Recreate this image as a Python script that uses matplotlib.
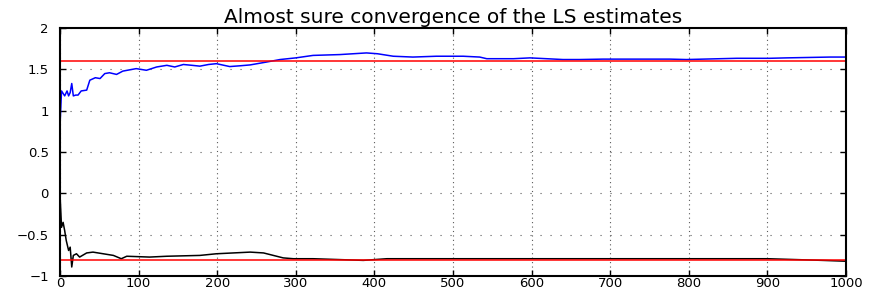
import numpy as np
import matplotlib
matplotlib.use("Agg")
import matplotlib.pyplot as plt

# --- dados ---
# estimativa do primeiro parametro (curva azul)
n_blue = [0, 0, 2, 6, 9, 11, 13, 15, 17, 20, 23, 27, 34, 38, 45, 51, 57, 63, 72, 80,
          97, 110, 123, 136, 146, 157, 168, 178, 189, 199, 216, 230, 242, 263, 280, 300,
          322, 356, 390, 404, 424, 449, 479, 513, 534, 543, 577, 598, 640, 661, 691,
          776, 797, 861, 903, 924, 980, 1000]
theta1 = [1.22, 0.81, 1.24, 1.18, 1.24, 1.18, 1.22, 1.33, 1.18, 1.19, 1.19, 1.24, 1.25,
          1.37, 1.40, 1.39, 1.45, 1.46, 1.44, 1.48, 1.51, 1.49, 1.53, 1.55, 1.53, 1.56,
          1.55, 1.54, 1.56, 1.57, 1.535, 1.545, 1.555, 1.59, 1.62, 1.64, 1.67, 1.68,
          1.70, 1.69, 1.66, 1.65, 1.66, 1.66, 1.65, 1.63, 1.63, 1.64, 1.62, 1.62,
          1.625, 1.625, 1.62, 1.635, 1.635, 1.64, 1.65, 1.65]

# estimativa do segundo parametro (curva preta)
n_black = [0, 2, 4, 6, 8, 11, 13, 15, 17, 21, 25, 34, 42, 55, 68, 78, 85, 114, 136,
           178, 199, 242, 259, 284, 297, 322, 386, 416, 500, 600, 700, 800, 900, 970, 1000]
theta2 = [0.0, -0.41, -0.35, -0.45, -0.57, -0.69, -0.65, -0.89, -0.75, -0.73, -0.77,
          -0.72, -0.71, -0.73, -0.75, -0.79, -0.76, -0.77, -0.76, -0.75, -0.73, -0.71,
          -0.72, -0.78, -0.79, -0.79, -0.81, -0.79, -0.79, -0.79, -0.79, -0.79, -0.79,
          -0.81, -0.82]

# valores verdadeiros
true_vals = [1.6, -0.8]

xticks = list(range(0, 1001, 100))
yticks = [-1, -0.5, 0, 0.5, 1, 1.5, 2]
ytick_labels = ['\u22121', '\u22120.5', '0', '0.5', '1', '1.5', '2']

# --- figura ---
fig = plt.figure(figsize=(8.69, 2.90), dpi=100)
ax = fig.add_axes([0.069, 0.048, 0.9045, 0.855])

ax.plot(n_blue, theta1, color='#0000ff', linewidth=1.1)
ax.plot(n_black, theta2, color='black', linewidth=1.1)
for v in true_vals:
    ax.axhline(v, color='#ff0000', linewidth=1.1)

ax.set_xlim(0, 1000)
ax.set_ylim(-1, 2)
ax.set_xticks(xticks)
ax.set_xticklabels([str(t) for t in xticks])
ax.set_yticks(yticks)
ax.set_yticklabels(ytick_labels)

ax.tick_params(direction='in', top=True, right=True, length=4, width=1,
               labelsize=9.5)
ax.tick_params(axis='x', pad=0.5)
ax.tick_params(axis='y', pad=8)

ax.xaxis.grid(True, color='0.35', linestyle=(0, (1, 3)), linewidth=0.8)
ax.yaxis.grid(True, color='0.35', linestyle=(0, (1, 8)), linewidth=0.8)

for s in ax.spines.values():
    s.set_linewidth(1.5)

ax.set_title('Almost sure convergence of the LS estimates', fontsize=14.5, pad=4)

fig.savefig('out.png', dpi=100)
